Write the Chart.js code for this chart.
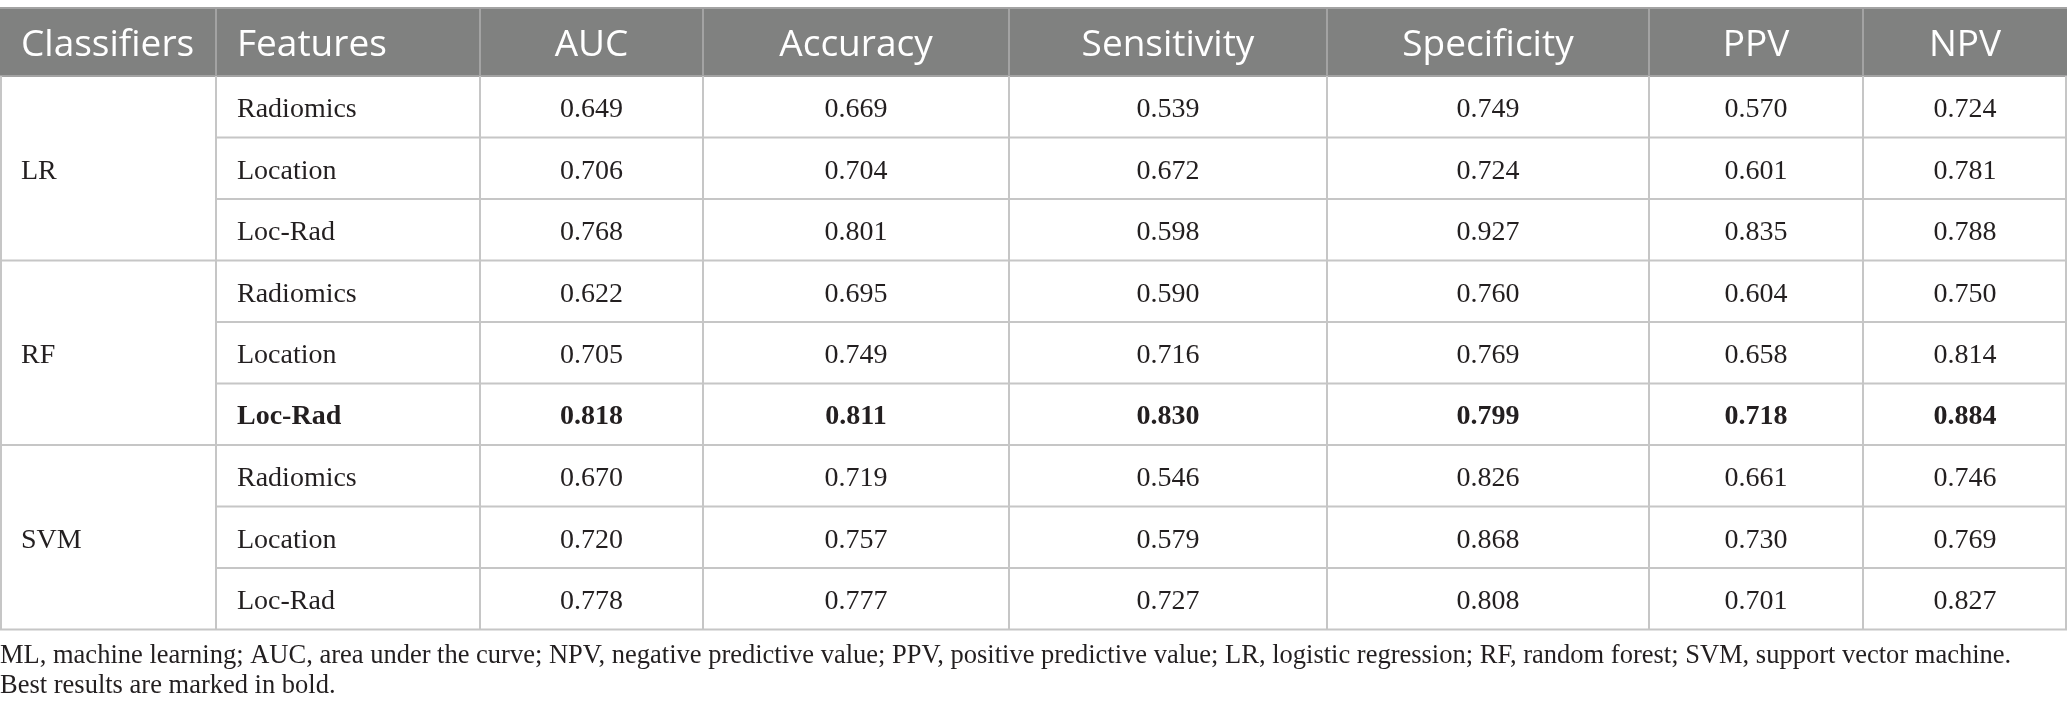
<!DOCTYPE html>
<html>
<head>
<meta charset="utf-8">
<script src="https://cdn.jsdelivr.net/npm/chart.js@4"></script>
<style>
  html, body { margin: 0; padding: 0; background: #fff; }
  #wrap { width: 2067px; height: 723px; }
</style>
</head>
<body>
<div id="wrap"><canvas id="tbl"></canvas></div>
<script>
// table content
const headers = ['Classifiers', 'Features', 'AUC', 'Accuracy', 'Sensitivity', 'Specificity', 'PPV', 'NPV'];
const classifiers = ['LR', 'RF', 'SVM'];
const features = ['Radiomics', 'Location', 'Loc-Rad'];
const lrValues = [
    [0.649, 0.669, 0.539, 0.749, 0.570, 0.724],
    [0.706, 0.704, 0.672, 0.724, 0.601, 0.781],
    [0.768, 0.801, 0.598, 0.927, 0.835, 0.788]
];
const rfValues = [
    [0.622, 0.695, 0.590, 0.760, 0.604, 0.750],
    [0.705, 0.749, 0.716, 0.769, 0.658, 0.814],
    [0.818, 0.811, 0.830, 0.799, 0.718, 0.884]
];
const svmValues = [
    [0.670, 0.719, 0.546, 0.826, 0.661, 0.746],
    [0.720, 0.757, 0.579, 0.868, 0.730, 0.769],
    [0.778, 0.777, 0.727, 0.808, 0.701, 0.827]
];
const bestCell = ['RF', 'Loc-Rad'];
const footnotes = [
    'ML, machine learning; AUC, area under the curve; NPV, negative predictive value; PPV, positive predictive value; LR, logistic regression; RF, random forest; SVM, support vector machine.',
    'Best results are marked in bold.'
];

// layout (units of the hidden scales)
const colWidths = [216, 264, 223, 306, 318, 322, 214, 204];
const tableTop = 8;
const headerH = 68;
const rowH = 61.5;
const footY = [656, 686];

const groups = [lrValues, rfValues, svmValues];
const colEdges = [0];
colWidths.forEach(w => colEdges.push(colEdges[colEdges.length - 1] + w));
const totalW = colEdges[colEdges.length - 1];

const tablePlugin = {
    id: 'tableDraw',
    beforeDraw(chart) {
        const c = chart.ctx;
        c.save();
        c.fillStyle = '#ffffff';
        c.fillRect(0, 0, chart.width, chart.height);
        c.restore();
    },
    afterDatasetsDraw(chart) {
        const c = chart.ctx;
        const sx = v => chart.scales.x.getPixelForValue(v);
        const sy = v => chart.scales.y.getPixelForValue(v);
        const bodyTop = tableTop + headerH;
        const nRows = classifiers.length * features.length;
        const bodyBottom = bodyTop + nRows * rowH;

        c.save();
        // header band
        c.fillStyle = '#808180';
        c.fillRect(sx(0), sy(tableTop), sx(totalW) - sx(0), sy(bodyTop) - sy(tableTop));
        c.strokeStyle = '#a3a3a3';
        c.lineWidth = 2;
        c.beginPath();
        c.moveTo(sx(0), sy(tableTop)); c.lineTo(sx(totalW), sy(tableTop));
        c.moveTo(sx(0), sy(bodyTop)); c.lineTo(sx(totalW), sy(bodyTop));
        for (let i = 1; i < colEdges.length - 1; i++) {
            c.moveTo(sx(colEdges[i]), sy(tableTop));
            c.lineTo(sx(colEdges[i]), sy(bodyTop));
        }
        c.stroke();

        // body grid
        c.strokeStyle = '#c6c6c6';
        c.beginPath();
        for (let r = 1; r <= nRows; r++) {
            const y = sy(bodyTop + r * rowH);
            const x0 = (r % features.length === 0) ? sx(0) : sx(colEdges[1]);
            c.moveTo(x0, y); c.lineTo(sx(totalW), y);
        }
        for (let i = 0; i < colEdges.length; i++) {
            let x = sx(colEdges[i]);
            if (i === 0) x += 1;
            if (i === colEdges.length - 1) x -= 1;
            c.moveTo(x, sy(bodyTop)); c.lineTo(x, sy(bodyBottom));
        }
        c.stroke();

        // header text
        c.fillStyle = '#ffffff';
        c.font = '37px "Open Sans"';
        c.textBaseline = 'middle';
        const hy = sy(tableTop + headerH / 2 + 3);
        headers.forEach((h, i) => {
            if (i < 2) {
                c.textAlign = 'left';
                c.fillText(h, sx(colEdges[i] + 21), hy);
            } else {
                c.textAlign = 'center';
                c.fillText(h, sx((colEdges[i] + colEdges[i + 1]) / 2), hy);
            }
        });

        // body text
        c.fillStyle = '#231f20';
        groups.forEach((vals, g) => {
            const gTop = bodyTop + g * features.length * rowH;
            c.font = '28px "Liberation Serif"';
            c.textAlign = 'left';
            c.fillText(classifiers[g], sx(colEdges[0] + 21), sy(gTop + features.length * rowH / 2 + 3));
            features.forEach((f, r) => {
                const y = sy(gTop + (r + 0.5) * rowH + 3);
                const bold = classifiers[g] === bestCell[0] && f === bestCell[1];
                c.font = (bold ? 'bold ' : '') + '28px "Liberation Serif"';
                c.textAlign = 'left';
                c.fillText(f, sx(colEdges[1] + 21), y);
                c.textAlign = 'center';
                vals[r].forEach((v, k) => {
                    c.fillText(v.toFixed(3), sx((colEdges[k + 2] + colEdges[k + 3]) / 2), y);
                });
            });
        });

        // footnotes
        c.font = '26.5px "Liberation Serif"';
        c.textAlign = 'left';
        footnotes.forEach((t, i) => c.fillText(t, sx(0), sy(footY[i])));
        c.restore();
    }
};

const ctx = document.getElementById('tbl');
const tableChart = new Chart(ctx, {
    type: 'scatter',
    data: { datasets: [{ data: [], pointRadius: 0 }] },
    options: {
        responsive: true,
        maintainAspectRatio: false,
        animation: false,
        layout: { padding: 0 },
        plugins: { legend: { display: false }, tooltip: { enabled: false } },
        scales: {
            x: { type: 'linear', min: 0, max: 2067, display: false },
            y: { type: 'linear', min: 0, max: 723, reverse: true, display: false }
        }
    },
    plugins: [tablePlugin]
});
</script>
</body>
</html>
